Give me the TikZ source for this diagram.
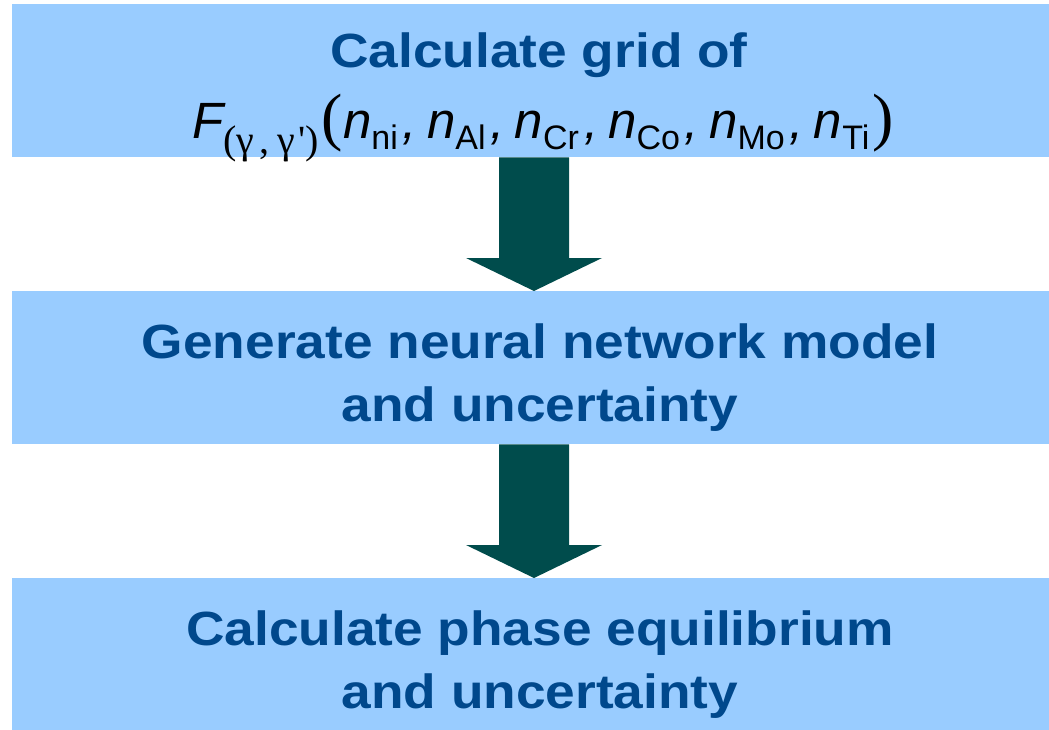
\documentclass[tikz,border=0pt]{standalone}
\usepackage{fontspec}
\setmainfont{Liberation Sans}
\newfontfamily\seriffont{Liberation Serif}
\usetikzlibrary{calc}
\definecolor{boxblue}{RGB}{153,204,255}
\definecolor{txtblue}{RGB}{0,72,140}
\definecolor{arrowteal}{RGB}{0,76,76}
\newcommand\subsc[1]{\raisebox{-11pt}{\fontsize{34}{34}\selectfont\upshape #1}}
\newcommand\bigpar[1]{{\seriffont\upshape\fontsize{64}{64}\selectfont #1}}
\newcommand\cm{\kern5pt,\kern10pt}
\newcommand\wide[1]{\scalebox{1.11}[1]{#1}}
\begin{document}
\begin{tikzpicture}[x=1pt,y=-1pt,
  box/.style={rectangle, fill=boxblue, draw=none, minimum width=1057pt, minimum height=153pt, inner sep=0pt, anchor=north west},
  ttl/.style={text=txtblue, font=\fontsize{48}{48}\selectfont\bfseries, anchor=base, inner sep=0pt},
  frm/.style={text=black, font=\fontsize{51}{51}\selectfont\itshape, anchor=base, inner sep=0pt},
  fatarrow/.style={fill=arrowteal, draw=none}]
\useasboundingbox (0,0) rectangle (1049,729);
\clip (0,0) rectangle (1049,729);
\fill[white] (0,0) rectangle (1049,729);
\node[box] (b1) at (12,4) {};
\node[box] (b2) at (12,291) {};
\node[box] (b3) at (12,578) {};
\coordinate (ax) at (534,0);
% texts
\node[ttl] (t1a) at (539,67) {\wide{Calculate grid of}};
\node[frm] (t1b) at (543,138) {F\raisebox{-15pt}{\seriffont\upshape\fontsize{40}{40}\selectfont (γ\kern5pt,\kern8pt γ\kern3pt')}\kern3pt\bigpar{(}n\subsc{ni}\cm n\subsc{Al}\cm n\subsc{Cr}\cm n\subsc{Co}\cm n\subsc{Mo}\cm n\subsc{Ti}\kern3pt\bigpar{)}};
\node[ttl] (t2a) at (540,358) {\wide{Generate neural network model}};
\node[ttl] (t2b) at (540,421) {\wide{and uncertainty}};
\node[ttl] (t3a) at (540,645) {\wide{Calculate phase equilibrium}};
\node[ttl] (t3b) at (540,708) {\wide{and uncertainty}};
% arrows
\fill[fatarrow] ($(b1.south -| ax)+(-35,0)$) -- ($(b2.north -| ax)+(-35,-33)$) -- ($(b2.north -| ax)+(-68,-33)$) -- (b2.north -| ax) -- ($(b2.north -| ax)+(68,-33)$) -- ($(b2.north -| ax)+(35,-33)$) -- ($(b1.south -| ax)+(35,0)$) -- cycle;
\fill[fatarrow] ($(b2.south -| ax)+(-35,0)$) -- ($(b3.north -| ax)+(-35,-33)$) -- ($(b3.north -| ax)+(-68,-33)$) -- (b3.north -| ax) -- ($(b3.north -| ax)+(68,-33)$) -- ($(b3.north -| ax)+(35,-33)$) -- ($(b2.south -| ax)+(35,0)$) -- cycle;
\end{tikzpicture}
\end{document}
